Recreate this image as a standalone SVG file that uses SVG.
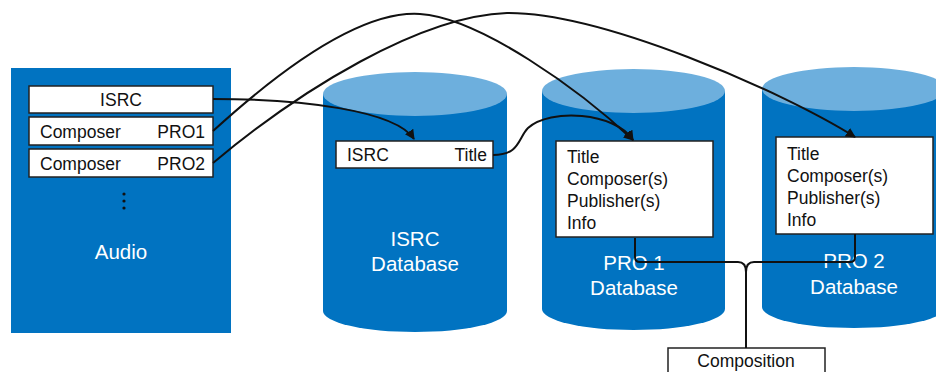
<svg xmlns="http://www.w3.org/2000/svg" width="936" height="372" viewBox="0 0 936 372">
<defs>
<style>
.body{fill:#0173C1}
.top{fill:#6DAFDD}
.box{fill:#fff;stroke:#222;stroke-width:1.5}
.t{font-family:"Liberation Sans",Arial,sans-serif;font-size:17.5px;fill:#111}
.w{font-family:"Liberation Sans",Arial,sans-serif;font-size:20.5px;fill:#fff;text-anchor:middle}
.c{fill:none;stroke:#111;stroke-width:2}
</style>
<marker id="ah" viewBox="0 0 10 10" refX="9" refY="5" markerWidth="5" markerHeight="5" orient="auto-start-reverse">
<path d="M0,0 L10,5 L0,10 z" fill="#111"/>
</marker>
</defs>
<rect width="936" height="372" fill="#fff"/>

<g id="audio">
<rect x="11" y="68" width="220" height="265" class="body"/>
<rect x="29" y="86" width="184" height="27" class="box"/>
<text x="121" y="106" class="t" text-anchor="middle">ISRC</text>
<rect x="29" y="117" width="184" height="28" class="box"/>
<text x="40" y="138" class="t">Composer</text>
<text x="205" y="138" class="t" text-anchor="end">PRO1</text>
<rect x="29" y="149" width="184" height="28" class="box"/>
<text x="40" y="170" class="t">Composer</text>
<text x="205" y="170" class="t" text-anchor="end">PRO2</text>
<circle cx="124" cy="194" r="1.6" fill="#111"/>
<circle cx="124" cy="201" r="1.6" fill="#111"/>
<circle cx="124" cy="208" r="1.6" fill="#111"/>
<text x="121" y="259" class="w">Audio</text>
</g>

<g id="isrc-db">
<path d="M323,94 L323,311 A92,21 0 0 0 507,311 L507,94 Z" class="body"/>
<ellipse cx="415" cy="94" rx="92" ry="22" class="top"/>
<rect x="336" y="141" width="157" height="27" class="box"/>
<text x="347" y="161" class="t">ISRC</text>
<text x="487" y="161" class="t" text-anchor="end">Title</text>
<text x="415" y="246" class="w">ISRC</text>
<text x="415" y="271" class="w">Database</text>
</g>

<g id="pro1-db">
<path d="M542,91 L542,309 A91.5,21 0 0 0 725,309 L725,91 Z" class="body"/>
<ellipse cx="633.5" cy="91" rx="91.5" ry="22" class="top"/>
<rect x="556" y="141" width="157" height="96" class="box"/>
<text x="567" y="163" class="t">Title</text>
<text x="567" y="185" class="t">Composer(s)</text>
<text x="567" y="207" class="t">Publisher(s)</text>
<text x="567" y="229" class="t">Info</text>
<text x="634" y="270" class="w">PRO 1</text>
<text x="634" y="295" class="w">Database</text>
</g>

<g id="pro2-db">
<path d="M762,89 L762,307 A92,21 0 0 0 946,307 L946,89 Z" class="body"/>
<ellipse cx="854" cy="89" rx="92" ry="22" class="top"/>
<rect x="776" y="137" width="157" height="97" class="box"/>
<text x="787" y="160" class="t">Title</text>
<text x="787" y="182" class="t">Composer(s)</text>
<text x="787" y="204" class="t">Publisher(s)</text>
<text x="787" y="226" class="t">Info</text>
<text x="854" y="268" class="w">PRO 2</text>
<text x="854" y="294" class="w">Database</text>
</g>

<g id="composition">
<rect x="668" y="348" width="157" height="40" class="box"/>
<text x="746" y="367" class="t" text-anchor="middle">Composition</text>
</g>

<g id="connectors">
<path d="M213,99 C300,99 395,110 414,139" class="c" marker-end="url(#ah)"/>
<path d="M213,131 C280,70 360,10 420,14 C480,18 580,90 633,140" class="c" marker-end="url(#ah)"/>
<path d="M213,163 C300,90 420,16 507,13 C600,12 780,90 855,137" class="c" marker-end="url(#ah)"/>
<path d="M493,155 C520,155 518,138 528,128 C550,108 615,112 633,140" class="c" marker-end="url(#ah)"/>
<path d="M635,238 L635,257 Q635,262 640,262 L738,262 Q746,262 746,272 Q746,262 754,262 L850,262 Q855,262 855,257 L855,234" class="c"/>
<path d="M746,270 L746,348" class="c"/>
</g>
</svg>
